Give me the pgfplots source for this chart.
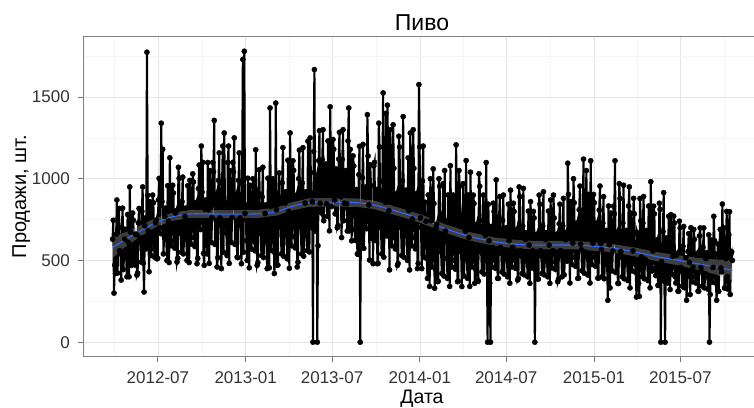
\documentclass[border=0pt]{standalone}
\usepackage{fontspec}
\setmainfont{Liberation Sans}
\usepackage{pgfplots}
\pgfplotsset{compat=1.18}
\definecolor{smblue}{HTML}{3366FF}
\begin{document}
\begin{tikzpicture}
\begin{axis}[
  at={(83pt,50.3pt)}, anchor=south west,
  width=678pt, height=320pt, scale only axis,
  xmin=-157, xmax=1264, ymin=-89, ymax=1869,
  axis line style={black!50, line width=0.9pt},
  xtick={0,184,365,549,730,914,1095},
  xticklabels={2012-07,2013-01,2013-07,2014-01,2014-07,2015-01,2015-07},
  ytick={0,500,1000,1500}, yticklabels={0,500,1000,1500},
  minor xtick={-91,92,274.5,457,639.5,822,1004.5,1187},
  minor ytick={250,750,1250,1750},
  grid=both,
  major grid style={color=black!10, line width=0.6pt},
  minor grid style={color=black!4, line width=0.5pt},
  tick align=outside, tick pos=left,
  major tick length=5pt, minor tick length=0pt,
  tick style={black!55, line width=0.9pt},
  tick label style={font=\fontsize{17}{17}\selectfont, text=black!80, inner sep=0pt},
  xticklabel style={anchor=north, yshift=-9.3pt},
  yticklabel style={anchor=east, xshift=-8pt},
  title={Пиво},
  title style={font=\fontsize{23}{23}\selectfont, at={(axis description cs:0.5,1)}, anchor=base},
  xlabel={Дата},
  xlabel style={font=\fontsize{19.5}{19.5}\selectfont, at={(axis description cs:0.5,0)}, anchor=base, yshift=-46.8pt},
  ylabel={Продажи, шт.},
  ylabel style={font=\fontsize{20}{20}\selectfont, at={(axis description cs:0,0.5)}, anchor=base, yshift=57pt},
]
\addplot[black, line width=2.1pt, mark=*, mark size=2.6pt, mark options={solid, line width=0.4pt}] coordinates {
(-95,630) (-93.5,746) (-92,300) (-90.5,472) (-89,420) (-87.5,660) (-86,870) (-84.5,423) (-83,700) (-81.5,818) (-80,560) (-78.5,544) (-77,380) (-75.5,703) (-74,820) (-72.5,444) (-71,520) (-69.5,631) (-68,690) (-66.5,516) (-65,400) (-63.5,781) (-62,610) (-60.5,400) (-59,950) (-57.5,674) (-56,470) (-54.5,573) (-53,790) (-51.5,746) (-50,500) (-48.5,472) (-47,660) (-45.5,660) (-44,410) (-42.5,423) (-41,730) (-39.5,818)
(-38,640) (-36.5,607) (-35,490) (-33.5,800) (-32,950) (-30.5,483) (-29,307) (-27.5,712) (-26,760) (-24.5,571) (-23,1774) (-21.5,898) (-20,680) (-18.5,431) (-17,860) (-15.5,765) (-14,530) (-12.5,642) (-11,900) (-9.5,853) (-8,570) (-6.5,519) (-5,730) (-3.5,747)
(-2,510) (-0.5,513) (1,870) (2.5,1002) (4,700) (5.5,665) (7,1340) (8.5,860) (10,1180) (11.5,540) (13,650) (14.5,770) (16,820) (17.5,628) (19,500) (20.5,957) (22,740) (23.5,487) (25,1128) (26.5,825) (28,590) (29.5,700) (31,960) (32.5,913) (34,620) (35.5,575) (37,790) (38.5,805) (40,490) (41.5,513) (43,1070) (44.5,1002) (46,700) (47.5,665) (49,550) (50.5,860) (52,1010) (53.5,540) (55,650) (56.5,770) (58,820) (59.5,628) (61,500) (62.5,957) (64,740) (65.5,487)
(67,990) (68.5,876) (70,600) (71.5,730) (73,1030) (74.5,980) (76,640) (77.5,585) (79,840) (80.5,855) (82,480) (83.5,513) (85,940) (86.5,1084) (88,730) (89.5,689) (91,1200) (92.5,918) (94,1100) (95.5,543) (97,470) (98.5,814) (100,870) (101.5,647)
(103,540) (104.5,1099) (106,810) (107.5,482) (109,1050) (110.5,925) (112,610) (113.5,762) (115,1100) (116.5,1042) (118,1357) (119.5,598) (121,880) (122.5,901) (124,460) (125.5,517) (127,990) (128.5,1158) (130,760) (131.5,715) (133,450) (134.5,971) (136,1200) (137.5,550) (139,1280) (140.5,854) (142,700) (143.5,667) (145,530) (146.5,1099) (148,1200) (149.5,482) (151,1050) (152.5,925) (154,610) (155.5,762) (157,1100) (158.5,1042) (160,1250) (161.5,598) (163,880) (164.5,901) (166,520) (167.5,517) (169,990) (170.5,1158) (172,760) (173.5,715) (175,480) (176.5,971)
(178,1730) (179.5,550) (181,1780) (182.5,787)
(184,840) (185.5,622) (187,500) (188.5,1003) (190,745) (191.5,455) (193,960) (194.5,849) (196,570) (197.5,703) (199,1000) (200.5,951) (202,616) (203.5,559) (205,1177) (206.5,828) (208,470) (209.5,487) (211,910) (212.5,1055) (214,700) (215.5,662) (217,530) (218.5,889) (220,1070) (221.5,518) (223,650) (224.5,787) (226,840) (227.5,622) (229,450) (230.5,1003) (232,745) (233.5,455)
(235,1433) (236.5,830) (238,560) (239.5,686) (241,1000) (242.5,933) (244,420) (245.5,544) (247,1463) (248.5,810) (250,470) (251.5,472) (253,890) (254.5,1035)
(256,750) (257.5,702) (259,540) (260.5,975) (262,1190) (263.5,526) (265,680) (266.5,851) (268,920) (269.5,651) (271,510) (272.5,1113) (274,800) (275.5,452) (277,1280) (278.5,926) (280,590) (281.5,751) (283,1110) (284.5,1051) (286,645) (287.5,577) (289,880) (290.5,900) (292,460) (293.5,489) (295,1000) (296.5,1175) (298,750) (299.5,702) (301,540) (302.5,975) (304,1190) (305.5,526) (307,680) (308.5,851) (310,920) (311.5,651)
(313,560) (314.5,1230) (316,910) (317.5,552) (319,1250) (320.5,1038) (322,700) (323.5,859) (325,0) (326.5,1166) (328,1668) (329.5,680) (331,990) (332.5,1012) (334,0) (335.5,590) (337,1110) (338.5,1294) (340,850) (341.5,808)
(343,790) (344.5,1118) (346,1300) (347.5,743) (349,900) (350.5,1014) (352,1090) (353.5,847) (355,770) (356.5,1231) (358,995) (359.5,681) (361,1440) (362.5,1076) (364,830) (365.5,930) (367,1240) (368.5,1180) (370,870) (371.5,785) (373,1060) (374.5,1055) (376,700) (377.5,713) (379,1120) (380.5,1284) (382,900) (383.5,889) (385,640) (386.5,1118) (388,1300) (389.5,743) (391,850) (392.5,1014) (394,1050) (395.5,847) (397,680) (398.5,1231) (400,1433) (401.5,681) (403,1180) (404.5,1076) (406,620) (407.5,930)
(409,1140) (410.5,1078) (412,690) (413.5,622) (415,910) (416.5,934) (418,540) (419.5,537) (421,1025) (422.5,1198) (424,0) (425.5,742) (427,590) (428.5,1006) (430,1210) (431.5,574) (433,725) (434.5,886) (436,950) (437.5,694) (439,1392) (440.5,1139) (442,840) (443.5,502) (445,1085) (446.5,958) (448,635) (449.5,790) (451,480) (452.5,1078) (454,1100) (455.5,622) (457,910) (458.5,934)
(460,480) (461.5,482) (463,1340) (464.5,1194) (466,750) (467.5,701) (469,540) (470.5,986) (472,1525) (473.5,520) (475,680) (476.5,856) (478,1400) (479.5,650) (481,1450) (482.5,1128) (484,805) (485.5,442) (487,1300) (488.5,935) (490,590) (491.5,754) (493,1330) (494.5,1064) (496,640) (497.5,571) (499,890) (500.5,909) (502,470) (503.5,482) (505,1260) (506.5,1194) (508,750) (509.5,701) (511,530) (512.5,986) (514,1380) (515.5,520) (517,680) (518.5,856) (520,930) (521.5,650) (523,500) (524.5,1128) (526,805) (527.5,442) (529,1280) (530.5,935) (532,590) (533.5,754) (535,1300) (536.5,1064) (538,640) (539.5,571) (541,890) (542.5,909) (544,450) (545.5,482)
(547,1576) (548.5,1194) (550,760) (551.5,701) (553,450) (554.5,986) (556,1200) (557.5,520) (559,640) (560.5,856)
(562,740) (563.5,511) (565,390) (566.5,901) (568,640) (569.5,341) (571,1000) (572.5,743) (574,460) (575.5,595) (577,1060) (578.5,848) (580,330) (581.5,447) (583,700) (584.5,722) (586,370) (587.5,373) (589,1000) (590.5,954) (592,590) (593.5,552) (595,420) (596.5,784) (598,970) (599.5,405) (601,1050) (602.5,679) (604,740) (605.5,511) (607,390) (608.5,901) (610,640) (611.5,341) (613,1080) (614.5,743) (616,460) (617.5,595) (619,900) (620.5,848) (622,500) (623.5,447) (625,1207) (626.5,722) (628,370) (629.5,373) (631,1050) (632.5,954) (634,590) (635.5,552) (637,340) (638.5,784) (640,970) (641.5,405) (643,540) (644.5,679) (646,1111) (647.5,511) (649,390) (650.5,901) (652,640) (653.5,341) (655,1040) (656.5,743) (658,460) (659.5,595) (661,900) (662.5,848) (664,360) (665.5,447) (667,700) (668.5,722) (670,380) (671.5,373) (673,1030) (674.5,954) (676,590) (677.5,552)
(679,430) (680.5,745) (682,900) (683.5,417) (685,530) (686.5,654) (688,1099) (689.5,508) (691,0) (692.5,844) (694,620) (695.5,361) (697,0) (698.5,708) (700,460) (701.5,580) (703,850) (704.5,799) (706,500) (707.5,452) (709,993) (710.5,691) (712,390) (713.5,390) (715,760) (716.5,891) (718,580) (719.5,543) (721,430) (722.5,745) (724,900) (725.5,417) (727,530) (728.5,654) (730,700) (731.5,508) (733,400) (734.5,844) (736,620) (737.5,361) (739,930) (740.5,708) (742,460) (743.5,580) (745,850) (746.5,799) (748,500) (749.5,452) (751,670) (752.5,691) (754,380) (755.5,390) (757,950) (758.5,891)
(760,560) (761.5,527) (763,420) (764.5,711) (766,941) (767.5,412) (769,516) (770.5,628) (772,670) (773.5,495) (775,400) (776.5,802) (778,594) (779.5,360) (781,860) (782.5,677) (784,454) (785.5,560) (787,800) (788.5,760) (790,0) (791.5,444) (793,646) (794.5,661) (796,386) (797.5,386) (799,900) (800.5,844) (802,560) (803.5,527) (805,420) (806.5,711) (808,920) (809.5,412) (811,516) (812.5,628) (814,670) (815.5,495) (817,400) (818.5,802) (820,594) (821.5,360) (823,870) (824.5,677) (826,454) (827.5,560) (829,900) (830.5,760) (832,490) (833.5,444) (835,646) (836.5,661) (838,370) (839.5,386) (841,724) (842.5,844) (844,560) (845.5,527) (847,400) (848.5,711) (850,880) (851.5,412) (853,516) (854.5,628) (856,672) (857.5,495)
(859,1095) (860.5,904) (862,648) (863.5,362) (865,860) (866.5,750) (868,475) (869.5,606) (871,1000) (872.5,853) (874,520) (875.5,464) (877,712) (878.5,730) (880,390) (881.5,392) (883,810) (884.5,955) (886,600) (887.5,566) (889,437) (890.5,792) (892,1120) (893.5,422) (895,552) (896.5,690) (898,1050) (899.5,525) (901,411) (902.5,904) (904,648) (905.5,362) (907,1110) (908.5,750) (910,475) (911.5,606) (913,904) (914.5,853) (916,520) (917.5,464) (919,712) (920.5,730) (922,392) (923.5,392) (925,808) (926.5,955) (928,603) (929.5,566)
(931,400) (932.5,729) (934,890) (935.5,388) (937,507) (938.5,634) (940,684) (941.5,482) (943,256) (944.5,833) (946,596) (947.5,332) (949,790) (950.5,690) (952,436) (953.5,558) (955,832) (956.5,785) (958,1110) (959.5,426) (961,655) (962.5,671) (964,360) (965.5,359) (967,970) (968.5,879) (970,554) (971.5,521) (973,400) (974.5,729) (976,960) (977.5,388) (979,507) (980.5,634) (982,684) (983.5,482) (985,377) (986.5,833) (988,950) (989.5,332) (991,790) (992.5,690) (994,436) (995.5,558) (997,880) (998.5,785) (1000,478) (1001.5,426) (1003,276) (1004.5,671) (1006,655) (1007.5,359) (1009,280) (1010.5,879) (1012,743) (1013.5,521) (1015,401) (1016.5,729) (1018,891) (1019.5,388) (1021,507) (1022.5,634) (1024,684) (1025.5,482) (1027,377) (1028.5,833) (1030,596) (1031.5,332) (1033,982) (1034.5,690) (1036,436) (1037.5,558) (1039,832) (1040.5,785)
(1042,453) (1043.5,407) (1045,612) (1046.5,626) (1048,347) (1049.5,348) (1051,850) (1052.5,813) (1054,0) (1055.5,492) (1057,384) (1058.5,677) (1060,915) (1061.5,372) (1063,0) (1064.5,593) (1066,638) (1067.5,457) (1069,362) (1070.5,770) (1072,559) (1073.5,322) (1075,780) (1076.5,644) (1078,415) (1079.5,525) (1081,771) (1082.5,729)
(1084,400) (1085.5,362) (1087,532) (1088.5,544) (1090,312) (1091.5,312) (1093,740) (1094.5,699) (1096,457) (1097.5,432) (1099,343) (1100.5,587) (1102,708) (1103.5,333) (1105,422) (1106.5,517) (1108,256) (1109.5,403) (1111,554) (1112.5,664) (1114,488) (1115.5,291) (1117,700) (1118.5,558) (1120,369) (1121.5,459) (1123,690) (1124.5,629) (1126,400) (1127.5,362) (1129,532) (1130.5,544) (1132,312) (1133.5,312) (1135,650) (1136.5,699) (1138,457) (1139.5,432)
(1141,342) (1142.5,580) (1144,699) (1145.5,332) (1147,419) (1148.5,511) (1150,548) (1151.5,401) (1153,324) (1154.5,657) (1156,0) (1157.5,292) (1159,625) (1160.5,553) (1162,367) (1163.5,457) (1165,770) (1166.5,622) (1168,398) (1169.5,361) (1171,256) (1172.5,538) (1174,600) (1175.5,311) (1177,591) (1178.5,690) (1180,453) (1181.5,430) (1183,845) (1184.5,580) (1186,699) (1187.5,332) (1189,330) (1190.5,511) (1192,800) (1193.5,401) (1195,324) (1196.5,657) (1198,798) (1199.5,292) (1201,540) (1202.5,553) (1204,500)
};
\addplot[draw=none, fill=black!40, fill opacity=0.4] coordinates {
(-95,644) (-70,670) (-40,710) (-5,759) (30,792) (65,809) (100,809) (150,807) (210,810) (250,825) (280,855) (315,879) (360,883) (417,879) (450,868) (479,845) (515,814) (549,783) (575,754) (601,722) (650,676) (706,640) (750,626) (783,620) (874,620) (943,605) (1000,579) (1048,550) (1100,528) (1150,510) (1204,500)
(1204,380) (1150,430) (1100,464) (1048,494) (1000,525) (943,553) (874,568) (783,568) (750,574) (706,588) (650,624) (601,670) (575,702) (549,731) (515,762) (479,793) (450,816) (417,827) (360,831) (315,827) (280,805) (250,775) (210,760) (150,759) (100,761) (65,759) (30,742) (-5,703) (-40,640) (-70,580) (-95,514)
} -- cycle;
\addplot[smblue, line width=1.1pt, smooth] coordinates {
(-95,579) (-70,625) (-40,675) (-5,731) (30,767) (65,784) (100,785) (150,783) (210,785) (250,800) (280,830) (315,853) (360,857) (417,853) (450,842) (479,819) (515,788) (549,757) (575,728) (601,696) (650,650) (706,614) (750,600) (783,594) (874,594) (943,579) (1000,552) (1048,522) (1100,496) (1150,470) (1204,440)
};
\end{axis}
\pgfresetboundingbox
\path[use as bounding box] (0,0) rectangle (754pt,407pt);
\end{tikzpicture}
\end{document}
